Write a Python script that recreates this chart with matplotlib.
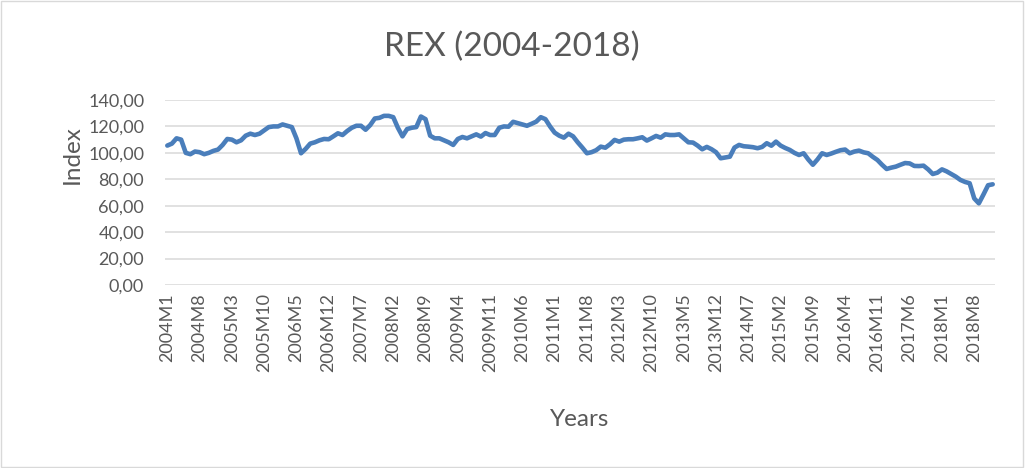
import matplotlib
matplotlib.use("Agg")
import matplotlib.pyplot as plt
from matplotlib.patches import Rectangle

# monthly REX index, 2004M1 .. 2018M12
rex = [
    105.5, 107, 111, 110, 100, 99, 101, 100.5, 99, 100, 101.5, 102.5,
    106, 110.5, 110, 108, 109.5, 113, 114.5, 113.5, 114.5, 117, 119.5, 120,
    120, 121.5, 120.5, 119.5, 111, 99.7, 103, 107, 108, 109.5, 110.5, 110.3,
    112.5, 114.8, 113.5, 116.5, 119, 120.5, 120.5, 117.5, 121, 126, 126.5, 128,
    128, 127, 119, 112.5, 118, 119, 119.5, 127.5, 125.5, 113, 111, 111,
    109.5, 108, 106, 110.5, 112, 111, 112.5, 114, 112.3, 115, 113.5, 113.5,
    119, 120, 119.8, 123.5, 122.5, 121.5, 120.5, 122, 123.6, 127, 125.5, 120,
    115.3, 113, 111.5, 114.5, 112.5, 108, 104, 99.7, 100.5, 102, 104.7, 103.9,
    106.5, 109.8, 108.5, 110, 110.3, 110.3, 111, 111.8, 109.3, 111, 112.8, 111.5,
    114, 113.5, 113.5, 114, 111, 108, 107.8, 105.5, 102.7, 104.5, 102.8, 100.5,
    95.9, 96.5, 97.1, 104, 106, 105, 104.7, 104.3, 103.5, 104.5, 107.3, 105.4,
    108.5, 105.5, 103.7, 102.2, 100, 98.4, 99.7, 95, 91, 95, 99.7, 98.4,
    99.5, 100.8, 102, 102.5, 99.7, 101, 101.7, 100.4, 99.7, 97, 94.6, 91,
    87.8, 88.8, 89.6, 91, 92.3, 92, 90.1, 90, 90.3, 87.5, 84, 85,
    87.5, 86, 84, 82, 79.5, 78, 77, 65.5, 61.8, 68.5, 75.5, 76.2,
]
months = [f"{y}M{m}" for y in range(2004, 2019) for m in range(1, 13)]
y_ticks = [0, 20, 40, 60, 80, 100, 120, 140]

FONT = "Lato"
GRAY = "#595959"

fig = plt.figure(figsize=(10.25, 4.68), dpi=100)
fig.patches.append(Rectangle((0.001, 0.002), 0.997, 0.995, transform=fig.transFigure,
                             fill=False, edgecolor="#d9d9d9", linewidth=1))
ax = fig.add_axes([165 / 1025, 1 - 285 / 468, 830 / 1025, 185 / 468])

x = list(range(len(rex)))
ax.plot(x, rex, color="#4a7ebb", linewidth=3.3, solid_capstyle="round",
        solid_joinstyle="round", zorder=3)

ax.set_xlim(-0.5, len(rex) - 0.5)
ax.set_ylim(0, 140)
ax.set_yticks(y_ticks)
ax.set_yticklabels([f"{v:.2f}".replace(".", ",") for v in y_ticks],
                   fontsize=13, color=GRAY, family=FONT)
ax.set_xticks(x[::7])
ax.set_xticklabels(months[::7], rotation=90, fontsize=13, color=GRAY, family=FONT)
ax.tick_params(axis="y", length=0, pad=15)
ax.tick_params(axis="x", length=0, pad=6)
ax.grid(axis="y", color="#d9d9d9", linewidth=1.1)
ax.set_axisbelow(True)
for s in ax.spines.values():
    s.set_visible(False)

fig.text(512 / 1025, 1 - 47 / 468, "REX (2004-2018)", ha="center", va="center",
         fontsize=24, color=GRAY, family=FONT)
fig.text(580 / 1025, 1 - 420 / 468, "Years", ha="center", va="center",
         fontsize=17.5, color=GRAY, family=FONT)
fig.text(72 / 1025, 1 - 155 / 468, "Index", ha="center", va="center", rotation=90,
         fontsize=17.5, color=GRAY, family=FONT)

fig.savefig("out.png", dpi=100, facecolor="white")
